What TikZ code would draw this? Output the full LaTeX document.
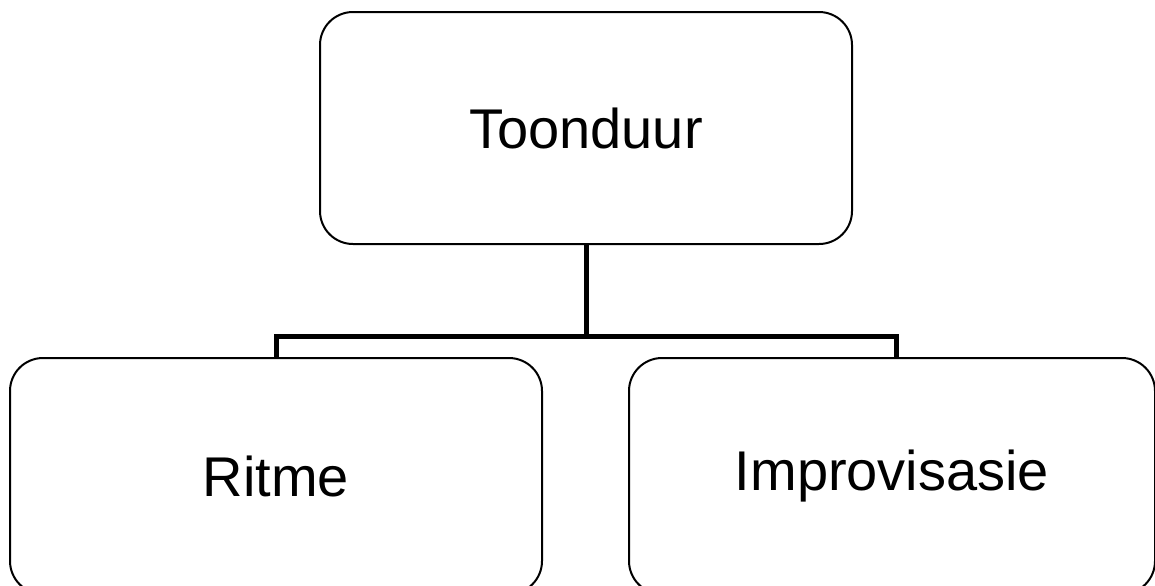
\documentclass[tikz,border=0pt]{standalone}
\usepackage{fontspec}
\setmainfont{Liberation Sans}
\begin{document}
\begin{tikzpicture}
    [
        x=0.5pt, y=-0.5pt,
        item/.style={rectangle, rounded corners=16.5pt, draw, line width=1pt,
            minimum width=266pt, minimum height=116pt,
            font=\fontsize{28}{34}\selectfont},
        link/.style={line width=2.5pt},
    ]
    \useasboundingbox (0,0) rectangle (1155,585);

    \node (toon) at (586,128) [item] {Toonduur};
    \node (ritme) at (276,476) [item, minimum height=118pt] {Ritme};
    \node (improv) at (892,476) [item, minimum width=263pt, minimum height=118pt] {Improvisasie};

    \coordinate (bus) at (586,336);
    \draw[link] (toon.south) -- (bus);
    \draw[link] (ritme.north) |- (bus) -| ([xshift=2pt]improv.north);
\end{tikzpicture}
\end{document}
